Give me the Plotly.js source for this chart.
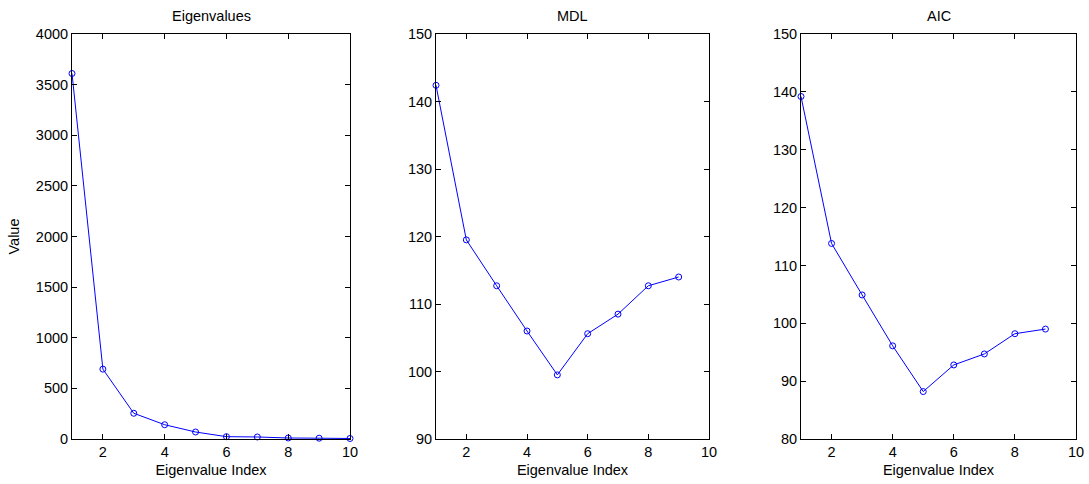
<!DOCTYPE html>
<html>
<head>
<meta charset="utf-8">
<script src="https://cdn.plot.ly/plotly-3.0.1.min.js"></script>
<style>html,body{margin:0;padding:0;background:#fff;}#chart{width:1089px;height:484px;}</style>
</head>
<body>
<div id="chart"></div>
<script>
const eigIndex = [1, 2, 3, 4, 5, 6, 7, 8, 9, 10];
const eigValues = [3610, 690, 254, 141, 69, 23, 20, 10, 8, 5];
const critIndex = [1, 2, 3, 4, 5, 6, 7, 8, 9];
const mdlValues = [142.4, 119.5, 112.7, 106.0, 99.5, 105.6, 108.5, 112.7, 114.0];
const aicValues = [139.2, 113.8, 104.9, 96.1, 88.2, 92.8, 94.7, 98.2, 99.0];
const panelTitles = ["Eigenvalues", "MDL", "AIC"];
const xLabel = "Eigenvalue Index";
const yLabel = "Value";

const font = {family: "Liberation Sans, Arial, sans-serif", size: 14.5, color: "#000"};
const lineStyle = {color: "#0000ff", width: 1};
const markerStyle = {symbol: "circle-open", size: 6, color: "#0000ff", line: {width: 1, color: "#0000ff"}};

const traces = [
  {x: eigIndex, y: eigValues, xaxis: "x", yaxis: "y", mode: "lines+markers", line: lineStyle, marker: markerStyle, cliponaxis: false},
  {x: critIndex, y: mdlValues, xaxis: "x2", yaxis: "y2", mode: "lines+markers", line: lineStyle, marker: markerStyle, cliponaxis: false},
  {x: critIndex, y: aicValues, xaxis: "x3", yaxis: "y3", mode: "lines+markers", line: lineStyle, marker: markerStyle, cliponaxis: false}
];

const W = 1089, H = 484;
const xd = [[72 / W, 350 / W], [436 / W, 709 / W], [801 / W, 1076 / W]];
const yd = [(H - 439) / H, (H - 34) / H];

function xax(i) {
  return {
    domain: xd[i], range: [1, 10], tickmode: "array", tickvals: [2, 4, 6, 8, 10],
    ticks: "inside", ticklen: 5, tickcolor: "#000", showline: true, linecolor: "#000", linewidth: 1,
    mirror: "ticks", showgrid: false, zeroline: false, tickfont: font,
    anchor: i === 0 ? "y" : "y" + (i + 1),
    title: {text: xLabel, font: font, standoff: 5}
  };
}
function yax(i, range, dtick, withTitle) {
  const a = {
    domain: yd, range: range, dtick: dtick, tick0: 0,
    ticks: "inside", ticklen: 5, tickcolor: "#000", showline: true, linecolor: "#000", linewidth: 1,
    mirror: "ticks", showgrid: false, zeroline: false, tickfont: font,
    anchor: i === 0 ? "x" : "x" + (i + 1)
  };
  if (withTitle) a.title = {text: yLabel, font: font, standoff: 12};
  return a;
}

const annotations = panelTitles.map((t, i) => ({
  text: t, xref: "paper", yref: "paper", x: (xd[i][0] + xd[i][1]) / 2, y: (H - 16) / H,
  xanchor: "center", yanchor: "middle", showarrow: false, font: font
}));

const layout = {
  width: W, height: H, margin: {l: 0, r: 0, t: 0, b: 0},
  paper_bgcolor: "#fff", plot_bgcolor: "#fff", showlegend: false, font: font,
  xaxis: xax(0), xaxis2: xax(1), xaxis3: xax(2),
  yaxis: yax(0, [0, 4000], 500, true),
  yaxis2: yax(1, [90, 150], 10, false),
  yaxis3: yax(2, [80, 150], 10, false),
  annotations: annotations
};

Plotly.newPlot("chart", traces, layout, {staticPlot: true, displayModeBar: false});
</script>
</body>
</html>
